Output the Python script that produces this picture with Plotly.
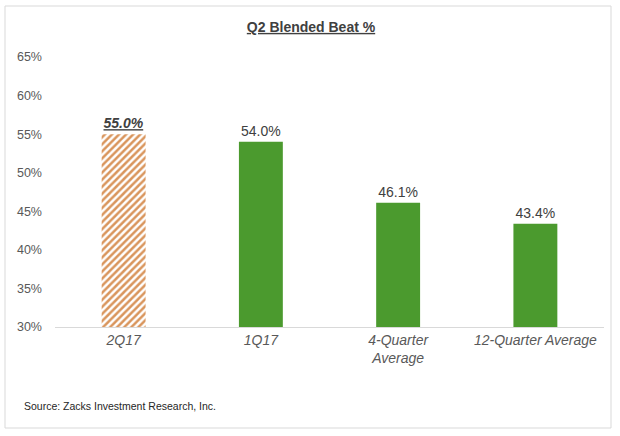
import plotly.graph_objects as go

categories = ["2Q17", "1Q17", "4-Quarter<br>Average", "12-Quarter Average"]
values = [55.0, 54.0, 46.1, 43.4]
tick_vals = [30, 35, 40, 45, 50, 55, 60, 65]
tick_text = ["30%", "35%", "40%", "45%", "50%", "55%", "60%", "65%"]

GREEN = "#4b9a2e"
HATCH = "#d9955c"

texts = [f"{v:.1f}%" for v in values]
texts[0] = f"<b><i><u>{texts[0]}</u></i></b>"

W, H = 620, 436
L, R, T, B = 55, 16, 57, 109
pw = W - L - R
ph = H - T - B

label_font = dict(family="Liberation Sans, Arial", size=14, color="#404040")

fig = go.Figure()
# Current quarter: hatched bar
fig.add_trace(go.Bar(
    x=categories[:1],
    y=values[:1],
    text=texts[:1],
    textposition="outside",
    cliponaxis=False,
    textfont=label_font,
    marker=dict(
        color="white",
        line=dict(width=0),
        pattern=dict(
            shape="/",
            fillmode="replace",
            bgcolor="white",
            fgcolor=HATCH,
            size=5,
            solidity=0.5,
        ),
    ),
    width=0.32,
    hoverinfo="skip",
))
# Comparison periods: solid green bars
fig.add_trace(go.Bar(
    x=categories[1:],
    y=values[1:],
    text=texts[1:],
    textposition="outside",
    cliponaxis=False,
    textfont=label_font,
    marker=dict(color=GREEN, line=dict(width=0)),
    width=0.32,
    hoverinfo="skip",
))

fig.update_layout(
    width=W, height=H,
    margin=dict(l=L, r=R, t=T, b=B),
    paper_bgcolor="white",
    plot_bgcolor="white",
    showlegend=False,
    barmode="overlay",
    title=dict(
        text="<b><u>Q2 Blended Beat %</u></b>",
        x=(311) / W, xanchor="center",
        y=1 - 27 / H, yanchor="middle",
        yref="container", xref="container",
        font=dict(family="Liberation Sans, Arial", size=14, color="#404040"),
    ),
    font=dict(family="Liberation Sans, Arial", color="#595959"),
    xaxis=dict(
        categoryorder="array",
        categoryarray=categories,
        showgrid=False,
        showline=True, linecolor="#d9d9d9", linewidth=1,
        ticks="",
        tickfont=dict(size=14, color="#595959", style="italic"),
        fixedrange=True,
    ),
    yaxis=dict(
        range=[30, 65],
        tickvals=tick_vals,
        ticktext=tick_text,
        showgrid=False,
        zeroline=False,
        showline=False,
        ticks="",
        ticklabelstandoff=12,
        tickfont=dict(size=12.5, color="#595959"),
        fixedrange=True,
    ),
    annotations=[dict(
        text="Source: Zacks Investment Research, Inc.",
        xref="paper", yref="paper",
        x=(22 - L) / pw, y=(H - B - 406) / ph,
        xanchor="left", yanchor="middle",
        showarrow=False,
        font=dict(family="Liberation Sans, Arial", size=10.5, color="#262626"),
    )],
    shapes=[dict(
        type="rect", xref="paper", yref="paper",
        x0=(5 - L) / pw, x1=(611 - L) / pw,
        y0=(H - B - 428) / ph, y1=(H - B - 6) / ph,
        line=dict(color="#d9d9d9", width=1),
        layer="below",
    )],
)

fig.write_html(
    "out.html",
    config={"displayModeBar": False},
    post_script="document.body.style.margin='0';document.body.style.padding='0';",
)
